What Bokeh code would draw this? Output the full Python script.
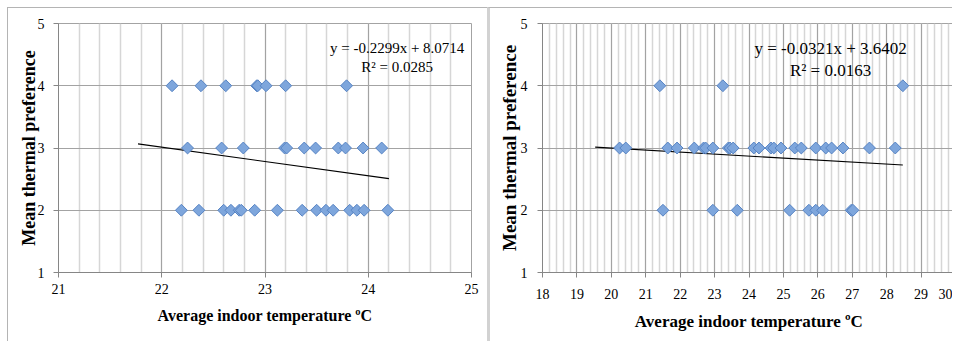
from bokeh.plotting import figure
from bokeh.layouts import row
from bokeh.models import SingleIntervalTicker, Label, ColumnDataSource, FixedTicker
from bokeh.embed import file_html
from bokeh.resources import INLINE
import math

# ---------------- data ----------------
left_temp = [22.10, 22.38, 22.62, 22.92, 22.93, 23.01, 23.20, 23.79,
             22.25, 22.58, 22.79, 23.19, 23.21, 23.38, 23.49, 23.71, 23.78, 23.95, 24.13,
             22.19, 22.36, 22.60, 22.67, 22.75, 22.77, 22.90, 23.12, 23.36, 23.50, 23.59,
             23.66, 23.82, 23.89, 23.96, 24.19]
left_pref = [4, 4, 4, 4, 4, 4, 4, 4,
             3, 3, 3, 3, 3, 3, 3, 3, 3, 3, 3,
             2, 2, 2, 2, 2, 2, 2, 2, 2, 2, 2,
             2, 2, 2, 2, 2]
left_slope = -0.2299
left_intercept = 8.0714
left_trend_x = [21.77, 24.20]
left_eq = "y = -0.2299x + 8.0714"
left_r2 = "R² = 0.0285"

right_temp = [21.41, 23.24, 28.47,
              20.24, 20.42, 21.64, 21.91, 22.41, 22.68, 22.74, 22.95, 23.40, 23.45, 23.54,
              24.14, 24.29, 24.64, 24.72, 24.93, 25.33, 25.52, 25.94, 26.23, 26.40, 26.73,
              27.50, 28.25,
              21.50, 22.95, 23.66, 25.18, 25.74, 25.94, 26.14, 26.97, 27.02]
right_pref = [4, 4, 4,
              3, 3, 3, 3, 3, 3, 3, 3, 3, 3, 3,
              3, 3, 3, 3, 3, 3, 3, 3, 3, 3, 3,
              3, 3,
              2, 2, 2, 2, 2, 2, 2, 2, 2]
right_slope = -0.0321
right_intercept = 3.6402
right_trend_x = [19.53, 28.47]
right_eq = "y = -0.0321x + 3.6402"
right_r2 = "R² = 0.0163"

x_title = "Average indoor temperature ºC"
y_title = "Mean thermal preference"
y_ticks = [1, 2, 3, 4, 5]

SERIF = "Liberation Serif"
FILL = "#7ea6dc"
EDGE = "#5784c4"
MAJOR = "#a3a3a3"
MINOR = "#d6d6d6"
AXIS = "#868686"


def make_panel(xs, ys, slope, intercept, tx, eq, r2, xr, width, borders,
               tick_fs, xlab_fs, ylab_fs, eq_fs, eq_x, eq_y1, eq_y2,
               xstand, ystand, ylab_stand, xlab_stand, styles, margin):
    p = figure(width=width, height=334, x_range=xr, y_range=(1, 5),
               output_backend="svg", toolbar_location=None,
               min_border_left=borders[0], min_border_right=borders[1],
               min_border_top=borders[2], min_border_bottom=borders[3])
    p.styles = styles
    p.margin = margin
    p.background_fill_color = "white"
    p.border_fill_color = "white"
    p.outline_line_color = MAJOR
    p.outline_line_width = 1

    p.xaxis.ticker = SingleIntervalTicker(interval=1, num_minor_ticks=5)
    p.yaxis.ticker = FixedTicker(ticks=y_ticks)
    p.xgrid.grid_line_color = MAJOR
    p.xgrid.minor_grid_line_color = MINOR
    p.xgrid.minor_grid_line_width = 1.5
    p.ygrid.grid_line_color = MAJOR
    p.ygrid.grid_line_width = 1.2

    for ax in (p.xaxis[0], p.yaxis[0]):
        ax.axis_line_color = AXIS
        ax.major_tick_line_color = AXIS
        ax.major_tick_in = 0
        ax.major_tick_out = 5
        ax.minor_tick_in = 0
        ax.minor_tick_out = 0
        ax.major_label_text_font = SERIF
        ax.major_label_text_font_size = tick_fs
        ax.major_label_text_color = "black"
        ax.axis_label_text_font = SERIF
        ax.axis_label_text_font_style = "bold"
        ax.axis_label_text_color = "black"
    p.xaxis.axis_label = x_title
    p.yaxis.axis_label = y_title
    p.xaxis.axis_label_text_font_size = xlab_fs
    p.yaxis.axis_label_text_font_size = ylab_fs
    p.xaxis.major_label_standoff = xstand
    p.yaxis.major_label_standoff = ystand
    p.yaxis.axis_label_standoff = ylab_stand
    p.xaxis.axis_label_standoff = xlab_stand

    ty = [slope * v + intercept for v in tx]
    p.line(tx, ty, line_color="black", line_width=1.1)

    src = ColumnDataSource(dict(x=xs, y=ys))
    p.scatter("x", "y", source=src, marker="square", size=8.4, angle=math.pi / 4,
              fill_color=FILL, line_color=EDGE, line_width=1)

    for txt, yy in ((eq, eq_y1), (r2, eq_y2)):
        p.add_layout(Label(x=eq_x, y=yy, text=txt, text_font=SERIF,
                           text_font_size=eq_fs, text_align="center",
                           text_baseline="middle", text_color="black"))
    return p


left = make_panel(left_temp, left_pref, left_slope, left_intercept, left_trend_x,
                  left_eq, left_r2, (21, 25), 480, (50, 17, 14, 67),
                  "14px", "16px", "18px", "15px", 24.28, 4.60, 4.30,
                  6, 9, -4, 10,
                  {"border-top": "1px solid #b4b4b4", "border-left": "1px solid #b4b4b4"},
                  (7, 0, 0, 7))

right = make_panel(right_temp, right_pref, right_slope, right_intercept, right_trend_x,
                   right_eq, right_r2, (18, 30), 465, (52, 0, 15, 70),
                   "14px", "17px", "19px", "17px", 26.37, 4.60, 4.25,
                   11, 10, -2, 10,
                   {"border-top": "1px solid #b4b4b4", "border-left": "3px solid #d2d2d2"},
                   (7, 0, 0, 0))

layout = row(left, right)
open("out.html", "w").write(file_html(layout, INLINE))
